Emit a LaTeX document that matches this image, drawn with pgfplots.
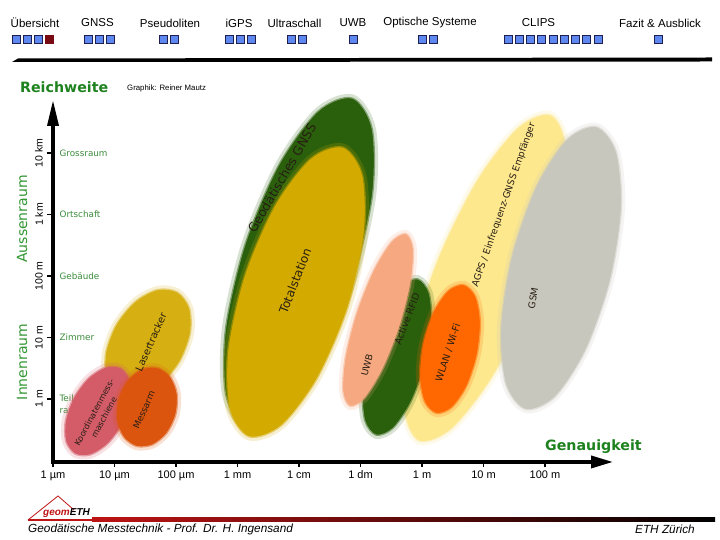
\documentclass[border=0pt]{standalone}
\usepackage{fontspec}
\setmainfont{Liberation Sans}
\newfontfamily\dejavu{DejaVu Sans}
\usepackage{pgfplots}
\pgfplotsset{compat=1.18}
\usetikzlibrary{arrows.meta}
\definecolor{cAGPS}{RGB}{253,232,142}
\definecolor{cGSM}{RGB}{200,199,189}
\definecolor{cGreen}{RGB}{42,96,12}
\definecolor{cUWB}{RGB}{246,168,128}
\definecolor{cWLAN}{RGB}{255,104,0}
\definecolor{cTotal}{RGB}{211,170,0}
\definecolor{cLaser}{RGB}{214,176,18}
\definecolor{cKoord}{RGB}{212,92,104}
\definecolor{cMess}{RGB}{220,85,15}
\definecolor{txt}{RGB}{40,30,20}
\definecolor{gTitle}{RGB}{30,130,30}
\definecolor{gSide}{RGB}{50,150,50}
\definecolor{gCat}{RGB}{60,140,60}
\definecolor{sqBlue}{RGB}{95,135,240}
\definecolor{sqRed}{RGB}{120,10,20}
\definecolor{sqBorder}{RGB}{30,30,80}
\definecolor{ftRed}{RGB}{190,20,20}
\newcommand{\fs}[1]{\fontsize{#1}{#1}\selectfont}
\pgfplotsset{blob/.style={draw=#1, fill=#1, line width=3pt, draw opacity=0.5, smooth cycle,
  preaction={draw=#1, line width=9pt, draw opacity=0.18}}}
\begin{document}
\begin{tikzpicture}[x=1pt,y=1pt]
\fill[white] (0,0) rectangle (720,540);
\useasboundingbox (0,0) rectangle (720,540);
% header
\begin{scope}[every node/.style={font=\fs{11.5}}]
\node at (35,517) {Übersicht};
\node at (97.5,517) {GNSS};
\node at (170,517) {Pseudoliten};
\node at (239,517) {iGPS};
\node at (294.5,517) {Ultraschall};
\node at (353,517) {UWB};
\node at (430,517) {Optische Systeme};
\node at (538.5,517) {CLIPS};
\node at (660,517) {Fazit \& Ausblick};
\end{scope}
\foreach \x in {12,23,34,84,95,106,159,170,225,236,247,287,298,349,418,429,504,515.25,526.5,537.75,549,560.25,571.5,582.75,594,654}
  \filldraw[fill=sqBlue, draw=sqBorder, line width=0.7pt] (\x,497) rectangle ++(8,8);
\filldraw[fill=sqRed, draw=sqRed, line width=0.7pt] (45,497) rectangle ++(8,8);
\fill[black] (12,478) -- (712,478.5) -- (712,482.5) -- (18,481.5) -- cycle;

\begin{axis}[at={(0,0)}, anchor=south west, scale only axis, width=720pt, height=540pt,
  xmin=-0.8618, xmax=10.8455, ymin=-2.2927, ymax=6.4878, hide axis, clip=false]
% category labels (under the blobs)
\node[anchor=west, text=gCat, font=\dejavu\fs{8.8}] at (axis cs:0.05,4) {Grossraum};
\node[anchor=west, text=gCat, font=\dejavu\fs{8.8}] at (axis cs:0.05,3) {Ortschaft};
\node[anchor=west, text=gCat, font=\dejavu\fs{8.8}] at (axis cs:0.05,2) {Gebäude};
\node[anchor=west, text=gCat, font=\dejavu\fs{8.8}] at (axis cs:0.05,1) {Zimmer};
\node[anchor=west, text=gCat, font=\dejavu\fs{8.8}] at (axis cs:0.05,0.01) {Teil-};
\node[anchor=west, text=gCat, font=\dejavu\fs{8.8}] at (axis cs:0.05,-0.20) {raum};
% blobs
\addplot[blob=cAGPS] coordinates {(8.091,4.605) (7.571,4.405) (6.905,3.550) (6.270,2.272) (5.837,0.912) (5.723,-0.165) (5.957,-0.671) (6.477,-0.471) (7.143,0.384) (7.778,1.662) (8.211,3.022) (8.325,4.099)};
\addplot[blob=cGSM] coordinates {(8.831,4.417) (8.359,4.210) (7.863,3.445) (7.471,2.327) (7.291,1.157) (7.371,0.248) (7.689,-0.157) (8.161,0.050) (8.657,0.815) (9.049,1.933) (9.229,3.103) (9.149,4.012)};
\addplot[blob=cGreen] coordinates {(5.930,1.940) (5.665,1.831) (5.381,1.414) (5.153,0.801) (5.043,0.156) (5.081,-0.347) (5.256,-0.574) (5.521,-0.465) (5.805,-0.048) (6.033,0.565) (6.143,1.210) (6.105,1.713)};
\addplot[blob=cUWB] coordinates {(5.737,2.676) (5.506,2.546) (5.217,2.077) (4.945,1.396) (4.765,0.685) (4.724,0.136) (4.833,-0.106) (5.064,0.024) (5.353,0.493) (5.625,1.174) (5.805,1.885) (5.846,2.434)};
\addplot[blob=cWLAN] coordinates {(6.675,1.847) (6.431,1.754) (6.193,1.409) (6.026,0.904) (5.973,0.375) (6.049,-0.036) (6.235,-0.221) (6.479,-0.128) (6.717,0.217) (6.884,0.722) (6.937,1.251) (6.861,1.662)};
\addplot[blob=cGreen] coordinates {(4.862,4.880) (4.313,4.666) (3.681,3.798) (3.134,2.510) (2.819,1.146) (2.821,0.072) (3.138,-0.424) (3.687,-0.210) (4.319,0.658) (4.866,1.946) (5.181,3.310) (5.179,4.384)};
\addplot[blob=cTotal] coordinates {(4.712,4.082) (4.197,3.902) (3.618,3.143) (3.126,2.008) (2.856,0.801) (2.879,-0.154) (3.190,-0.602) (3.705,-0.422) (4.284,0.337) (4.776,1.472) (5.046,2.679) (5.023,3.634)};
\addplot[blob=cLaser] coordinates {(2.017,1.728) (1.700,1.766) (1.342,1.574) (1.038,1.204) (0.870,0.756) (0.882,0.350) (1.073,0.094) (1.390,0.056) (1.748,0.248) (2.052,0.618) (2.220,1.066) (2.208,1.472)};
\addplot[blob=cKoord] coordinates {(1.098,0.494) (0.855,0.505) (0.579,0.328) (0.344,0.011) (0.213,-0.362) (0.221,-0.689) (0.366,-0.884) (0.609,-0.895) (0.885,-0.718) (1.120,-0.401) (1.251,-0.028) (1.243,0.299)};
\addplot[blob=cMess] coordinates {(1.696,0.498) (1.445,0.475) (1.217,0.290) (1.072,-0.008) (1.049,-0.338) (1.155,-0.613) (1.360,-0.758) (1.611,-0.735) (1.839,-0.550) (1.984,-0.252) (2.007,0.078) (1.901,0.353)};
% blob labels
\node[rotate=62, text=txt, font=\dejavu\fontsize{8.3}{11}\selectfont, align=center, inner sep=0pt] at (axis cs:0.748,-0.260) {Koordinatenmess-\\maschiene};
\node[rotate=66, text=txt, font=\dejavu\fs{9}] at (axis cs:1.480,-0.179) {Messarm};
\node[rotate=66, text=txt, font=\dejavu\fs{10}] at (axis cs:1.593,0.927) {Lasertracker};
\node[rotate=60, text=txt, font=\dejavu\fs{12.5}] at (axis cs:3.724,3.594) {Geodätisches GNSS};
\node[rotate=69, text=txt, font=\dejavu\fs{12}] at (axis cs:3.935,1.919) {Totalstation};
\node[rotate=75, text=txt, font=\dejavu\fs{9.3}] at (axis cs:5.106,0.553) {UWB};
\node[rotate=69, text=txt, font=\dejavu\fs{9.5}] at (axis cs:5.756,1.301) {Active RFID};
\node[rotate=72, text=txt, font=\dejavu\fs{9.5}] at (axis cs:6.423,0.748) {WLAN / Wi-Fi};
\node[rotate=70.6, text=txt, font=\dejavu\fs{9.3}] at (axis cs:7.333,3.154) {AGPS / Einfrequenz-GNSS Empfänger};
\node[rotate=80, text=txt, font=\dejavu\fs{9.3}] at (axis cs:7.805,1.642) {GSM};
% axes
\draw[line width=3.5pt, -{Triangle[width=12pt,length=22pt]}] (axis cs:-0.03,-1.024) -- (axis cs:9.106,-1.024);
\draw[line width=3.5pt, -{Triangle[width=11pt,length=26pt]}] (axis cs:0,-1.05) -- (axis cs:0,4.862);
\draw[line width=1.5pt] (axis cs:-0.09,0) -- (axis cs:0,0);
\draw[line width=1.5pt] (axis cs:-0.09,1) -- (axis cs:0,1);
\draw[line width=1.5pt] (axis cs:-0.09,2) -- (axis cs:0,2);
\draw[line width=1.5pt] (axis cs:-0.09,3) -- (axis cs:0,3);
\draw[line width=1.5pt] (axis cs:-0.09,4) -- (axis cs:0,4);
\draw[line width=1.5pt] (axis cs:0,-1.024) -- (axis cs:0,-1.10);
\draw[line width=1.5pt] (axis cs:1,-1.024) -- (axis cs:1,-1.10);
\draw[line width=1.5pt] (axis cs:2,-1.024) -- (axis cs:2,-1.10);
\draw[line width=1.5pt] (axis cs:3,-1.024) -- (axis cs:3,-1.10);
\draw[line width=1.5pt] (axis cs:4,-1.024) -- (axis cs:4,-1.10);
\draw[line width=1.5pt] (axis cs:5,-1.024) -- (axis cs:5,-1.10);
\draw[line width=1.5pt] (axis cs:6,-1.024) -- (axis cs:6,-1.10);
\draw[line width=1.5pt] (axis cs:7,-1.024) -- (axis cs:7,-1.10);
\draw[line width=1.5pt] (axis cs:8,-1.024) -- (axis cs:8,-1.10);
\node[font=\fs{10.5}, rotate=90] at (axis cs:-0.228,0) {1 m};
\node[font=\fs{10.5}, rotate=90] at (axis cs:-0.228,1) {10 m};
\node[font=\fs{10.5}, rotate=90] at (axis cs:-0.228,2) {100 m};
\node[font=\fs{10.5}, rotate=90] at (axis cs:-0.228,3) {1 km};
\node[font=\fs{10.5}, rotate=90] at (axis cs:-0.228,4) {10 km};
\node[font=\fs{11}, anchor=base] at (axis cs:0,-1.29) {1 µm};
\node[font=\fs{11}, anchor=base] at (axis cs:1,-1.29) {10 µm};
\node[font=\fs{11}, anchor=base] at (axis cs:2,-1.29) {100 µm};
\node[font=\fs{11}, anchor=base] at (axis cs:3,-1.29) {1 mm};
\node[font=\fs{11}, anchor=base] at (axis cs:4,-1.29) {1 cm};
\node[font=\fs{11}, anchor=base] at (axis cs:5,-1.29) {1 dm};
\node[font=\fs{11}, anchor=base] at (axis cs:6,-1.29) {1 m};
\node[font=\fs{11}, anchor=base] at (axis cs:7,-1.29) {10 m};
\node[font=\fs{11}, anchor=base] at (axis cs:8,-1.29) {100 m};
\node[rotate=90, text=gSide, font=\dejavu\fs{14}] at (axis cs:-0.504,2.927) {Aussenraum};
\node[rotate=90, text=gSide, font=\dejavu\fs{14}] at (axis cs:-0.504,0.602) {Innenraum};
\node[anchor=west, inner sep=0pt, text=gTitle, font=\dejavu\bfseries\fs{14.2}] at (axis cs:-0.537,5.073) {Reichweite};
\node[anchor=west, inner sep=0pt, font=\fs{7.8}] at (axis cs:1.203,5.041) {Graphik: Reiner Mautz};
\node[anchor=west, inner sep=0pt, text=gTitle, font=\dejavu\bfseries\fs{14.2}] at (axis cs:8.0,-0.78) {Genauigkeit};
\end{axis}
% footer
\draw[ftRed, line width=0.8pt] (28,20) -- (58,44) -- (74,30);
\fill[ftRed] (28,18.5) rectangle (92,20.5);
\shade[left color=ftRed, right color=black] (92,18) rectangle (715,22);
\node[anchor=south west, inner sep=0pt, font=\bfseries\itshape\fs{10}] at (43,22.5) {\textcolor{ftRed}{geom}ETH};
\node[anchor=west, inner sep=0pt, font=\itshape\fs{11.8}] at (28,11) {Geodätische Messtechnik - Prof. Dr. H. Ingensand};
\node[anchor=east, inner sep=0pt, font=\itshape\fs{11.8}] at (695,11) {ETH Zürich};
\end{tikzpicture}
\end{document}
